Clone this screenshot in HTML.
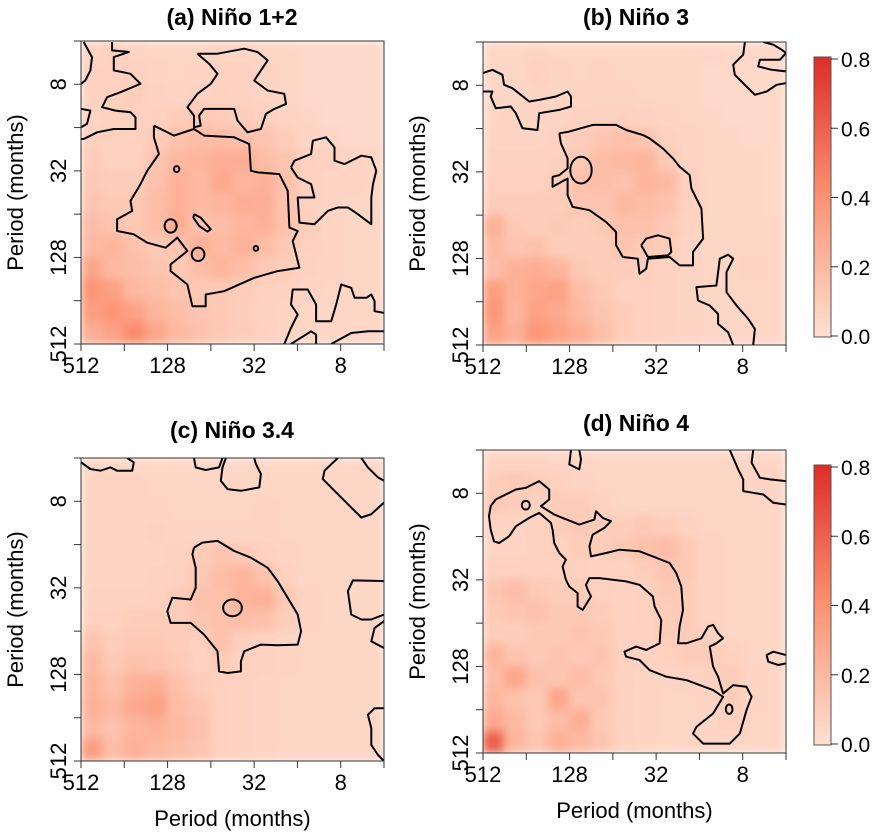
<!DOCTYPE html>
<html><head><meta charset="utf-8"><style>
html,body{margin:0;padding:0;background:#fff;}
svg{display:block;font-family:"Liberation Sans",Arial,sans-serif;}
</style></head><body>
<svg id="fig" width="885" height="837" viewBox="0 0 885 837" xmlns="http://www.w3.org/2000/svg">
<defs>
<filter id="blur" x="-10%" y="-10%" width="120%" height="120%"><feGaussianBlur stdDeviation="4.5" edgeMode="duplicate"/></filter>
<linearGradient id="cbgrad" x1="0" y1="1" x2="0" y2="0">
<stop offset="0" stop-color="#FEE0D2"/><stop offset="0.5" stop-color="#FC9272"/><stop offset="1" stop-color="#DE2D26"/>
</linearGradient>
</defs>
</svg>
<script>
// ---- axis data ----
const periodTicks=[512,256,128,64,32,16,8,4];
const periodLabels=["512","","128","","32","","8",""];
const colorTicks=[0,0.2,0.4,0.6,0.8];
const colorLabels=["0.0","0.2","0.4","0.6","0.8"];
const panelTitles=["(a) Niño 1+2","(b) Niño 3","(c) Niño 3.4","(d) Niño 4"];
// ---- heatmap values (rows: period 4 -> 512, cols: period 512 -> 4), 14x14 ----
const gridA=[
[.06,.08,.06,.05,.05,.05,.06,.06,.05,.05,.04,.04,.04,.04],
[.08,.08,.07,.06,.05,.06,.07,.07,.06,.05,.04,.04,.04,.04],
[.07,.08,.09,.07,.06,.07,.08,.07,.06,.05,.04,.04,.04,.04],
[.06,.07,.08,.08,.10,.12,.10,.09,.08,.06,.05,.04,.04,.04],
[.08,.08,.08,.10,.15,.18,.18,.16,.14,.10,.06,.05,.04,.04],
[.10,.08,.08,.14,.20,.22,.25,.26,.18,.14,.08,.07,.06,.05],
[.12,.10,.10,.16,.24,.20,.28,.22,.24,.16,.08,.06,.06,.05],
[.14,.12,.12,.18,.24,.20,.22,.26,.25,.15,.08,.06,.05,.05],
[.18,.14,.12,.18,.26,.16,.18,.22,.24,.16,.10,.06,.05,.05],
[.20,.22,.16,.12,.14,.24,.20,.24,.18,.12,.08,.06,.05,.05],
[.30,.20,.18,.14,.12,.18,.22,.18,.12,.10,.07,.06,.05,.05],
[.38,.32,.20,.18,.14,.12,.12,.10,.08,.07,.06,.05,.05,.05],
[.34,.38,.32,.22,.18,.14,.12,.09,.07,.06,.05,.05,.05,.05],
[.26,.32,.42,.30,.20,.16,.12,.10,.08,.06,.05,.05,.05,.05]];
const gridB=[
[.05,.05,.06,.05,.05,.05,.05,.05,.05,.05,.05,.04,.04,.04],
[.05,.05,.08,.06,.05,.06,.05,.05,.05,.05,.04,.04,.04,.04],
[.05,.05,.06,.05,.06,.06,.06,.05,.05,.05,.04,.04,.04,.04],
[.05,.06,.06,.06,.07,.08,.08,.07,.06,.05,.05,.04,.04,.04],
[.06,.06,.06,.07,.10,.14,.16,.14,.08,.06,.05,.05,.04,.04],
[.07,.07,.07,.08,.12,.18,.20,.22,.12,.06,.05,.05,.05,.04],
[.08,.08,.08,.10,.16,.18,.16,.22,.20,.08,.05,.05,.05,.04],
[.10,.10,.10,.10,.14,.14,.20,.18,.16,.08,.05,.05,.05,.04],
[.24,.12,.10,.12,.10,.12,.16,.16,.12,.07,.05,.05,.05,.05],
[.20,.14,.16,.10,.10,.10,.14,.12,.10,.06,.05,.05,.05,.05],
[.18,.24,.26,.22,.12,.10,.09,.08,.07,.06,.05,.05,.06,.05],
[.34,.24,.30,.32,.18,.12,.08,.08,.07,.06,.05,.05,.05,.05],
[.38,.22,.32,.28,.20,.14,.10,.08,.07,.06,.05,.05,.05,.05],
[.32,.25,.38,.32,.26,.18,.10,.08,.07,.06,.05,.05,.05,.05]];
const gridC=[
[.05,.05,.05,.05,.05,.05,.05,.05,.05,.05,.05,.05,.05,.05],
[.06,.06,.06,.05,.05,.05,.05,.05,.05,.05,.05,.05,.05,.05],
[.06,.06,.06,.06,.05,.05,.05,.05,.06,.05,.05,.05,.05,.05],
[.06,.06,.06,.07,.06,.06,.06,.06,.06,.05,.05,.05,.05,.05],
[.06,.06,.06,.06,.07,.10,.14,.12,.08,.06,.05,.05,.05,.05],
[.06,.06,.06,.07,.08,.12,.18,.22,.16,.08,.05,.05,.05,.05],
[.07,.07,.07,.08,.10,.16,.16,.22,.24,.12,.06,.05,.05,.05],
[.08,.08,.10,.10,.10,.14,.16,.18,.16,.10,.06,.05,.05,.05],
[.14,.10,.12,.12,.10,.08,.16,.08,.07,.06,.05,.05,.05,.05],
[.20,.12,.16,.14,.12,.08,.10,.08,.07,.06,.05,.05,.05,.05],
[.22,.16,.24,.26,.16,.10,.08,.07,.06,.05,.05,.05,.05,.05],
[.24,.20,.28,.32,.18,.14,.08,.07,.06,.05,.05,.05,.05,.05],
[.20,.16,.22,.24,.20,.16,.08,.07,.06,.05,.05,.05,.05,.05],
[.34,.18,.24,.20,.18,.14,.08,.07,.06,.05,.05,.05,.05,.05]];
const gridD=[
[.06,.06,.06,.05,.05,.05,.05,.05,.05,.05,.05,.05,.05,.05],
[.10,.12,.10,.08,.06,.05,.05,.05,.05,.05,.05,.05,.06,.06],
[.12,.10,.08,.10,.10,.07,.05,.05,.05,.05,.05,.05,.05,.05],
[.06,.06,.07,.10,.12,.10,.10,.12,.10,.07,.05,.05,.05,.05],
[.06,.06,.07,.08,.10,.10,.12,.16,.18,.12,.06,.05,.05,.05],
[.08,.08,.07,.08,.08,.07,.08,.10,.14,.12,.06,.05,.05,.05],
[.14,.18,.12,.10,.10,.08,.07,.08,.12,.10,.06,.05,.05,.05],
[.12,.14,.16,.12,.12,.10,.07,.08,.10,.10,.06,.05,.05,.05],
[.10,.10,.12,.12,.14,.12,.08,.08,.10,.10,.08,.05,.05,.05],
[.22,.14,.12,.14,.12,.14,.08,.07,.08,.10,.10,.08,.05,.05],
[.18,.30,.16,.14,.18,.12,.07,.06,.06,.07,.08,.10,.06,.05],
[.22,.16,.12,.30,.14,.14,.07,.06,.05,.05,.06,.10,.06,.05],
[.28,.20,.12,.18,.26,.12,.07,.06,.05,.05,.06,.08,.05,.05],
[.60,.22,.14,.24,.20,.14,.07,.06,.05,.05,.05,.05,.05,.05]];
// ---- significance contours (grid units: 12..918 spans the full axis) ----
const contoursA=[
[[20,15],[45,60],[40,100],[25,130],[12,140]],
[[105,15],[105,40],[155,45],[110,60],[110,100],[160,110],[190,140],[130,165],[90,180],[75,210],[115,220],[160,225],[175,240],[175,275],[110,275],[60,285],[20,305],[12,305]],
[[12,215],[40,220],[30,260],[12,270]],
[[360,50],[420,50],[500,35],[540,45],[570,70],[550,100],[530,130],[570,160],[620,170],[625,200],[590,215],[565,230],[550,275],[510,285],[480,250],[470,215],[380,215],[365,235],[370,265],[350,270],[350,235],[330,210],[360,170],[400,140],[420,110],[395,80],[360,50]],
[[640,390],[650,370],[700,350],[705,310],[745,300],[770,330],[770,370],[800,380],[850,355],[880,360],[895,400],[885,440],[880,480],[880,560],[840,530],[810,510],[780,510],[750,520],[710,560],[665,555],[660,480],[710,480],[700,440],[660,420],[640,390]],
[[620,918],[640,870],[660,830],[640,800],[645,755],[690,755],[715,800],[715,850],[760,850],[775,800],[790,740],[820,750],[830,780],[865,780],[880,770],[890,790],[890,820],[918,825]],
[[640,918],[700,880],[715,890],[715,918]],
[[760,918],[820,885],[870,880],[918,880]],
[[230,265],[290,295],[350,275],[380,295],[470,300],[515,320],[520,400],[540,405],[605,410],[630,460],[635,570],[660,580],[645,610],[665,690],[600,700],[530,720],[440,760],[385,770],[385,805],[345,805],[330,740],[280,700],[280,680],[330,640],[300,600],[265,630],[210,615],[170,590],[120,580],[120,545],[165,520],[160,490],[190,440],[210,400],[245,350],[230,300],[230,265]],
[[350,530],[370,540],[400,575],[390,582],[365,565],[348,540],[350,530]]];
const holesA=[[298,395,8,9],[280,565,18,20],[362,650,19,20],[535,632,7,7]];
const contoursB=[
[[12,105],[40,95],[70,110],[75,140],[100,150],[150,190],[180,185],[230,175],[265,160],[275,175],[275,205],[240,215],[180,225],[175,275],[130,270],[110,225],[95,205],[50,210],[35,175],[40,160],[12,160]],
[[795,12],[790,50],[760,80],[765,110],[800,145],[825,170],[860,160],[890,140],[918,135]],
[[918,100],[875,95],[835,85],[840,65],[900,65],[918,45]],
[[850,12],[880,20],[905,35],[918,45]],
[[240,285],[270,280],[340,260],[410,260],[440,275],[490,290],[510,300],[550,330],[580,360],[600,385],[630,410],[635,450],[665,510],[670,600],[640,640],[640,680],[600,680],[570,655],[505,660],[500,690],[480,705],[475,660],[430,655],[410,620],[410,580],[380,550],[330,515],[280,505],[265,470],[265,420],[220,445],[220,415],[240,410],[265,390],[265,360],[245,315],[240,285]],
[[485,620],[500,600],[535,590],[570,600],[575,640],[565,650],[505,655],[485,620]],
[[760,918],[745,880],[715,855],[715,825],[690,800],[655,785],[650,745],[710,740],[715,700],[720,660],[745,648],[760,660],[740,700],[740,760],[770,800],[805,840],[825,870],[820,918]]];
const holesB=[[305,395,32,40]];
const contoursC=[
[[12,25],[40,45],[70,50],[100,40],[120,50],[165,50],[170,25],[150,12]],
[[350,12],[355,40],[385,48],[425,40],[435,12]],
[[445,12],[435,40],[430,80],[450,105],[490,110],[545,100],[550,60],[535,30],[530,12]],
[[780,12],[740,50],[735,75],[770,110],[800,140],[850,190],[880,180],[918,145]],
[[850,12],[870,40],[900,70],[918,80]],
[[350,280],[375,265],[420,260],[470,290],[520,310],[570,340],[600,380],[630,430],[660,480],[670,530],[660,570],[600,572],[550,570],[500,590],[490,620],[490,650],[450,655],[425,650],[420,590],[380,540],[340,505],[280,505],[270,470],[285,430],[340,435],[355,400],[355,340],[345,300],[350,280]],
[[918,380],[825,378],[810,410],[820,480],[850,495],[880,495],[918,480]],
[[918,500],[890,520],[880,560],[918,580]],
[[918,760],[890,760],[870,780],[880,820],[880,870],[900,900],[918,918]]];
const holesC=[[465,460,28,25]];
const contoursD=[
[[275,12],[270,55],[300,70],[305,40],[300,12]],
[[750,12],[775,70],[790,100],[790,135],[820,140],[850,145],[880,170],[918,175]],
[[820,12],[815,50],[840,95],[870,100],[918,105]],
[[50,160],[110,130],[140,125],[180,105],[210,130],[210,160],[185,180],[225,205],[250,215],[300,235],[345,220],[350,195],[370,215],[395,225],[375,245],[340,265],[330,300],[335,330],[380,320],[420,310],[480,315],[520,330],[570,350],[590,380],[605,420],[610,490],[600,540],[595,590],[620,590],[665,575],[685,540],[700,535],[715,560],[730,575],[710,590],[690,600],[700,660],[715,690],[730,740],[760,715],[800,720],[815,750],[800,790],[780,860],[750,890],[670,890],[640,860],[650,840],[700,800],[730,750],[700,730],[620,700],[560,690],[510,670],[480,640],[440,630],[435,615],[470,600],[500,610],[540,590],[545,520],[525,480],[520,450],[480,415],[440,405],[400,400],[360,395],[330,395],[320,415],[325,430],[335,450],[310,490],[295,480],[295,440],[270,420],[260,400],[250,360],[260,340],[240,320],[225,290],[220,250],[215,230],[180,200],[150,215],[110,240],[90,270],[60,290],[45,285],[35,250],[30,210],[35,180],[50,160]],
[[918,625],[880,615],[860,625],[865,645],[895,655],[918,650]]];
const holesD=[[140,177,12,13],[748,787,10,14]];

const NS="http://www.w3.org/2000/svg";
const svg=document.getElementById('fig');
function mk(tag,attrs,parent){const e=document.createElementNS(NS,tag);for(const k in attrs)e.setAttribute(k,attrs[k]);(parent||svg).appendChild(e);return e;}
function lerp(a,b,t){return a+(b-a)*t;}
const stops=[[0,[254,224,210]],[0.4,[252,146,114]],[0.8,[222,45,38]]];
function color(v){v=Math.max(0,Math.min(0.8,v));for(let i=0;i<stops.length-1;i++){const[a,ca]=stops[i],[b,cb]=stops[i+1];if(v<=b){const t=(v-a)/(b-a);return`rgb(${Math.round(lerp(ca[0],cb[0],t))},${Math.round(lerp(ca[1],cb[1],t))},${Math.round(lerp(ca[2],cb[2],t))})`;}}return"rgb(222,45,38)";}

const panels=[
{x:81,y:41,grid:gridA,cont:contoursA,holes:holesA,tx:232,ty:25,id:'a'},
{x:483,y:42,grid:gridB,cont:contoursB,holes:holesB,tx:636,ty:25,id:'b'},
{x:81,y:458,grid:gridC,cont:contoursC,holes:holesC,tx:232,ty:438,id:'c'},
{x:483,y:450,grid:gridD,cont:contoursD,holes:holesD,tx:636,ty:431,id:'d'}];
const S=303;
panels.forEach((p,pi)=>{
  const xs=per=>p.x+(9-Math.log2(per))/7*S;
  const ys=per=>p.y+S-(9-Math.log2(per))/7*S;
  const gx=g=>p.x+(g-12)/906*S, gy=g=>p.y+(g-12)/906*S;
  const g=mk('g',{});
  
  
  const cp=mk('clipPath',{id:'clip'+pi},g);
  mk('rect',{x:p.x,y:p.y,width:S,height:S},cp);
  const hm=mk('g',{'clip-path':`url(#clip${pi})`},g);
  
  
  const inner=mk('g',{filter:'url(#blur)'},hm);
  const n=p.grid.length;
  p.grid.forEach((row,r)=>row.forEach((v,c)=>{
    const x0=xs(Math.pow(2,9-c*7/n)), x1=xs(Math.pow(2,9-(c+1)*7/n));
    const y0=ys(Math.pow(2,2+r*7/n)), y1=ys(Math.pow(2,2+(r+1)*7/n));
    const rc=mk('rect',{x:x0-0.5,y:y0-0.5,width:x1-x0+1,height:y1-y0+1,fill:color(v)},inner);
    
    
  }));
  const cg=mk('g',{'clip-path':`url(#clip${pi})`,fill:'none',stroke:'#000','stroke-width':2,'stroke-linejoin':'round'},g);
  
  
  p.cont.forEach(pts=>{
    const pl=mk('polyline',{points:pts.map(q=>gx(q[0]).toFixed(1)+','+gy(q[1]).toFixed(1)).join(' ')},cg);
    
    
  });
  p.holes.forEach(h=>{
    const el=mk('ellipse',{cx:gx(h[0]),cy:gy(h[1]),rx:h[2]/906*S,ry:h[3]/906*S},cg);
    
    
  });
  const fr=mk('rect',{x:p.x,y:p.y,width:S,height:S,fill:'none',stroke:'#333','stroke-width':1},g);
  
  
  periodTicks.forEach((t,i)=>{
    const X=xs(t);
    mk('line',{x1:X,y1:p.y+S,x2:X,y2:p.y+S+7,stroke:'#333'},g);
    if(periodLabels[i]){const tl=mk('text',{x:X,y:p.y+S+29,'font-size':22,'text-anchor':'middle',fill:'#000'},g);tl.textContent=periodLabels[i];
      }
    const Y=ys(t);
    mk('line',{x1:p.x,y1:Y,x2:p.x-7,y2:Y,stroke:'#333'},g);
    if(periodLabels[i]){const tl=mk('text',{x:0,y:0,'font-size':22,'text-anchor':'middle',fill:'#000',transform:`translate(${p.x-15},${Y}) rotate(-90)`},g);tl.textContent=periodLabels[i];
      }
  });
  const ttl=mk('text',{x:p.tx,y:p.ty,'font-size':23,'font-weight':'bold','text-anchor':'middle'},g);
  ttl.textContent=panelTitles[pi];
  
  
  const yt=mk('text',{x:0,y:0,'font-size':22,'text-anchor':'middle',transform:`translate(${p.x-58},${p.y+S/2}) rotate(-90)`},g);
  yt.textContent='Period (months)';
  
  
  if(pi>=2){
    const xt=mk('text',{x:p.x+S/2,y:p.y+S+65,'font-size':22,'text-anchor':'middle'},g);
    xt.textContent='Period (months)';
    
    
  }
});
[{y0:57,y1:337},{y0:465,y1:745}].forEach(cb=>{
  const g=mk('g',{});
  
  
  mk('rect',{x:814,y:cb.y0,width:17,height:cb.y1-cb.y0,fill:'url(#cbgrad)',stroke:'#555','stroke-width':1},g);
  const cs=v=>cb.y1-1-(v/0.8)*(cb.y1-cb.y0-3);
  colorTicks.forEach((t,i)=>{
    mk('line',{x1:831,y1:cs(t),x2:838,y2:cs(t),stroke:'#333'},g);
    const tl=mk('text',{x:841,y:cs(t)+8,'font-size':21},g);
    tl.textContent=colorLabels[i];
    
    
  });
});
</script>
</body></html>
